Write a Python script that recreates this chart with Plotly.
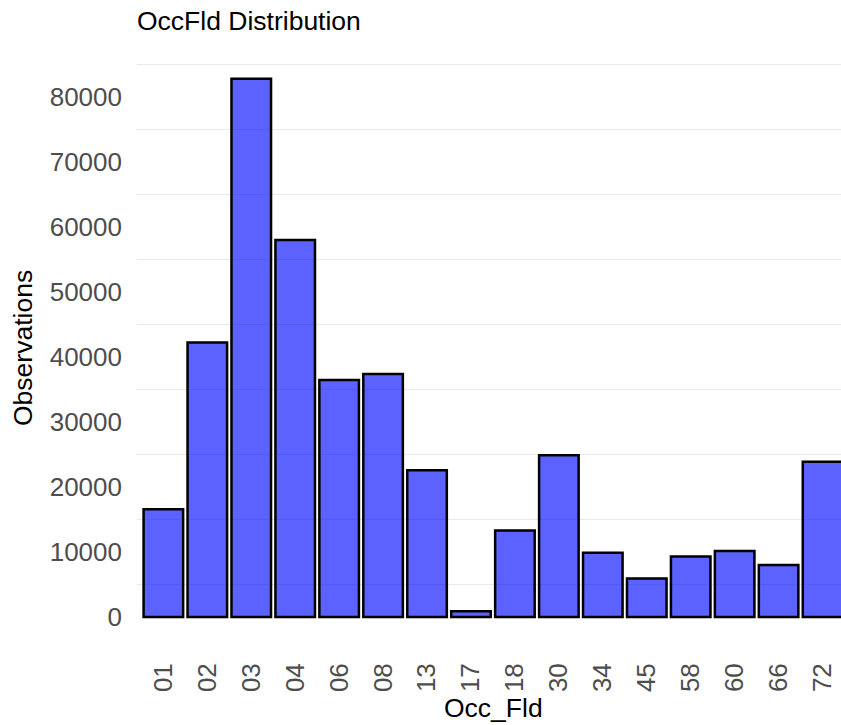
import plotly.graph_objects as go

categories = ["01", "02", "03", "04", "06", "08", "13", "17", "18", "30", "34", "45", "58", "60", "66", "72"]
observations = [16600, 42250, 82800, 58000, 36450, 37400, 22600, 900, 13300, 24900, 9900, 5950, 9300, 10150, 8000, 23900]
y_ticks = [0, 10000, 20000, 30000, 40000, 50000, 60000, 70000, 80000]
grid_vals = [5000, 15000, 25000, 35000, 45000, 55000, 65000, 75000, 85000]

W, H = 841, 725
L, R, T, B = 137, 0, 52, 81

fig = go.Figure(go.Bar(
    x=categories, y=observations, width=0.9,
    marker=dict(color="rgba(0,10,255,0.64)", line=dict(color="black", width=2.5)),
))

FONT = "Liberation Sans, Arial, Helvetica, sans-serif"

fig.update_layout(
    width=W, height=H,
    margin=dict(l=L, r=R, t=T, b=B),
    paper_bgcolor="white", plot_bgcolor="white",
    showlegend=False,
    font=dict(family=FONT, size=26, color="black"),
    title=dict(text="OccFld Distribution", x=L / W, xanchor="left", xref="container",
               y=1 - 21 / H, yanchor="middle", yref="container",
               font=dict(family=FONT, size=26.5, color="black")),
    xaxis=dict(type="category", range=[-0.6, 15.42], showgrid=False, zeroline=False,
               showline=False, ticks="", tickangle=-90,
               tickfont=dict(family=FONT, size=26, color="#4d4d4d"),
               ticklabelstandoff=13),
    yaxis=dict(range=[-4138, 86908], tickvals=y_ticks, ticktext=[str(v) for v in y_ticks],
               showgrid=False, zeroline=False, showline=False, ticks="",
               tickfont=dict(family=FONT, size=26, color="#4d4d4d"),
               ticklabelstandoff=14,
               minor=dict(tickvals=grid_vals, showgrid=True, gridcolor="#e9e9e9", gridwidth=1.4, ticks="")),
    annotations=[
        dict(text="Observations", textangle=-90, xref="paper", yref="paper",
             x=-(L - 23) / (W - L - R), y=1 - (348 - T) / (H - T - B),
             xanchor="center", yanchor="middle", showarrow=False,
             font=dict(family=FONT, size=26.5, color="black")),
        dict(text="Occ_Fld", xref="paper", yref="paper",
             x=(493 - L) / (W - L - R), y=-(708 - (H - B)) / (H - T - B),
             xanchor="center", yanchor="middle", showarrow=False,
             font=dict(family=FONT, size=26.5, color="black")),
    ],
)

fig.write_html("out.html", config={"displayModeBar": False},
               post_script="document.body.style.margin='0';document.body.style.overflow='hidden';")
